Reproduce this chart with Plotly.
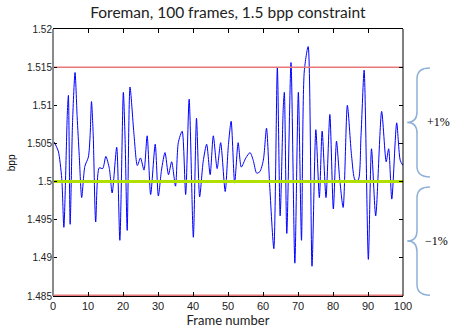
import plotly.graph_objects as go

# ---- data ----
frames = [0.3, 1.5, 2.5, 3.1, 4.1, 4.4, 4.9, 5.6, 6.3, 6.9, 7.5, 8.2, 9.1, 10.1, 10.6, 11.0,
          11.5, 12.2, 13.2, 14.2, 15.1, 16.1, 16.9, 18.2, 19.1, 20.1, 20.6, 21.2, 22.0, 23.1,
          24.1, 25.0, 26.0, 26.9, 27.9, 29.2, 30.1, 31.0, 32.0, 33.0, 33.9, 35.0, 35.8, 36.9,
          37.9, 38.9, 40.1, 41.0, 41.9, 42.9, 43.9, 44.9, 45.8, 46.9, 47.9, 49.2, 50.1, 50.9,
          51.9, 52.9, 53.8, 55.1, 56.3, 57.2, 58.2, 59.1, 60.1, 61.0, 61.9, 63.1, 64.1, 64.9,
          65.8, 66.1, 66.8, 68.0, 69.1, 70.1, 71.0, 71.8, 72.9, 74.0, 75.1, 76.1, 76.9, 78.0,
          79.1, 80.1, 81.0, 81.9, 82.9, 84.1, 85.3, 86.3, 87.2, 88.0, 88.9, 90.1, 91.0, 92.2,
          93.9, 95.2, 95.9, 96.8, 98.2, 99.2, 100.0]
bpp = [1.5052, 1.5040, 1.5004, 1.4940, 1.5090, 1.5113, 1.4944, 1.5080, 1.5143, 1.5085,
       1.5034, 1.4979, 1.5020, 1.5032, 1.5060, 1.5105, 1.5060, 1.4947, 1.5018, 1.5017,
       1.5033, 1.5017, 1.4985, 1.5045, 1.4923, 1.5117, 1.5055, 1.4936, 1.5124, 1.5064,
       1.5021, 1.5031, 1.5015, 1.5060, 1.4983, 1.5049, 1.4981, 1.5015, 1.5038, 1.5009,
       1.5026, 1.4994, 1.5051, 1.5066, 1.4983, 1.5108, 1.4927, 1.5083, 1.4980, 1.5026,
       1.5049, 1.5009, 1.5060, 1.5017, 1.5051, 1.4987, 1.5047, 1.5079, 1.4998, 1.5051,
       1.5019, 1.5031, 1.5038, 1.5028, 1.5011, 1.5013, 1.5028, 1.5070, 1.4996, 1.4912,
       1.5150, 1.4955, 1.5098, 1.5117, 1.4932, 1.5156, 1.4893, 1.5117, 1.4923, 1.5145,
       1.5177, 1.4889, 1.5068, 1.4979, 1.5066, 1.4979, 1.5088, 1.4964, 1.5053, 1.5004,
       1.4966, 1.5100, 1.5034, 1.5002, 1.5002, 1.5060, 1.5146, 1.4898, 1.5043, 1.4955,
       1.5092, 1.5026, 1.5043, 1.4977, 1.5077, 1.5028, 1.5021]

target = 1.5
upper_limit = 1.515
lower_limit = 1.485
x_span = [0, 100]
y_range = [1.485, 1.52]
y_ticks = [1.485, 1.49, 1.495, 1.5, 1.505, 1.51, 1.515, 1.52]
y_tick_text = ["1.485", "1.49", "1.495", "1.5", "1.505", "1.51", "1.515", "1.52"]
x_ticks = [0, 10, 20, 30, 40, 50, 60, 70, 80, 90, 100]
brace_labels = ["+1%", "\u22121%"]

fig = go.Figure()
fig.add_trace(go.Scatter(x=frames, y=bpp, mode="lines",
                         line=dict(color="#0000ff", width=1, shape="spline", smoothing=0.7),
                         hoverinfo="skip"))
fig.add_trace(go.Scatter(x=x_span, y=[target, target], mode="lines",
                         line=dict(color="#b0e000", width=3)))
fig.add_trace(go.Scatter(x=x_span, y=[upper_limit, upper_limit], mode="lines",
                         line=dict(color="#e87878", width=1.5)))
fig.add_trace(go.Scatter(x=x_span, y=[lower_limit, lower_limit], mode="lines",
                         line=dict(color="#e87878", width=3)))

def py(v):
    return (v - y_range[0]) / (y_range[1] - y_range[0])

def brace(v_top, v_bot):
    x1, x2, x3 = 1.012, 1.04, 1.077
    yt, yb = py(v_top), py(v_bot)
    yc = (yt + yb) / 2
    d = 0.04
    return (f"M {x3},{yt} Q {x2},{yt} {x2},{yt-d} L {x2},{yc+d} "
            f"Q {x2},{yc} {x1},{yc} Q {x2},{yc} {x2},{yc-d} "
            f"L {x2},{yb+d} Q {x2},{yb} {x3},{yb}")

shapes = [
    dict(type="path", xref="paper", yref="paper", path=brace(1.5149, 1.5006),
         line=dict(color="#8fb0d8", width=1.5)),
    dict(type="path", xref="paper", yref="paper", path=brace(1.4993, 1.4851),
         line=dict(color="#8fb0d8", width=1.5)),
    dict(type="line", xref="paper", yref="paper", x0=1, x1=1, y0=0, y1=1,
         line=dict(color="black", width=1)),
    dict(type="line", xref="paper", yref="paper", x0=0, x1=0, y0=0, y1=1,
         line=dict(color="#8a8a8a", width=2)),
]

annotations = [
    dict(text=brace_labels[0], xref="paper", yref="paper", x=1.063,
         y=py((1.5149 + 1.5006) / 2), xanchor="left", yanchor="middle", showarrow=False,
         font=dict(family="Liberation Serif", size=12, color="black")),
    dict(text=brace_labels[1], xref="paper", yref="paper", x=1.057,
         y=py((1.4993 + 1.4851) / 2), xanchor="left", yanchor="middle", showarrow=False,
         font=dict(family="Liberation Serif", size=12, color="black")),
    dict(text="bpp", xref="paper", yref="paper", x=-0.118, y=0.5, textangle=-90,
         xanchor="center", yanchor="middle", showarrow=False,
         font=dict(family="Liberation Sans", size=10, color="black")),
]

fig.update_layout(
    width=453, height=335,
    margin=dict(l=53, r=50, t=29, b=33),
    plot_bgcolor="white", paper_bgcolor="white",
    showlegend=False,
    title=dict(text="Foreman, 100 frames, 1.5 bpp constraint", x=0.503, xanchor="center",
               y=0.962, yanchor="middle",
               font=dict(family="Lato", size=15.5, color="#222")),
    shapes=shapes, annotations=annotations,
    xaxis=dict(range=x_span, tickvals=x_ticks, ticks="inside", ticklen=4,
               tickcolor="black", showline=True, linecolor="black", linewidth=1,
               mirror="ticks", showgrid=False, zeroline=False,
               tickfont=dict(family="Liberation Sans", size=11, color="#222"),
               title=dict(text="Frame number", standoff=2,
                          font=dict(family="Lato", size=13, color="#222"))),
    yaxis=dict(range=y_range, tickvals=y_ticks, ticktext=y_tick_text, ticks="inside",
               ticklen=4, tickcolor="black", showline=False,
               mirror="ticks", showgrid=False, zeroline=False,
               tickfont=dict(family="Liberation Sans", size=10, color="#222")),
)

fig.write_html("out.html")
